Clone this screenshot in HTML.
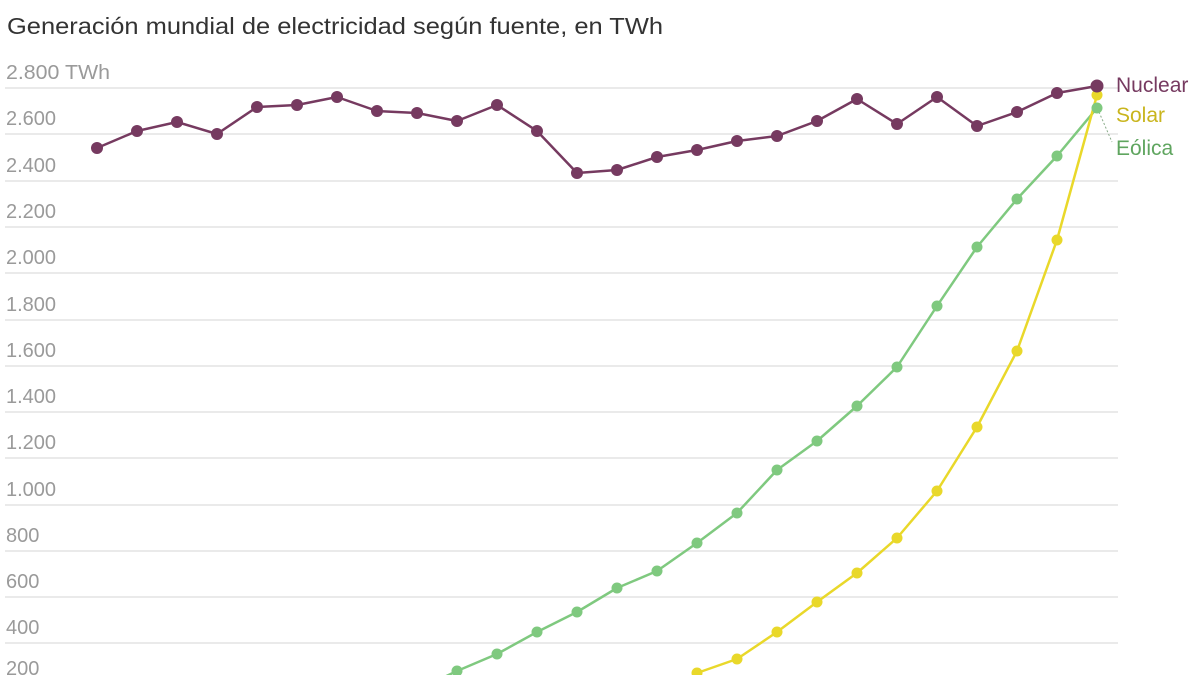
<!DOCTYPE html>
<html><head><meta charset="utf-8"><style>
body{margin:0;background:#fff;width:1200px;height:675px;overflow:hidden}
svg{display:block}
text{font-family:"Liberation Sans",sans-serif}
</style></head><body>
<svg width="1200" height="675" viewBox="0 0 1200 675">
<text x="7" y="34" font-size="23" fill="#333" textLength="656" lengthAdjust="spacingAndGlyphs">Generación mundial de electricidad según fuente, en TWh</text>
<g stroke="#e4e4e4" stroke-width="1.5">
<line x1="5" x2="1118" y1="88" y2="88"/><line x1="5" x2="1118" y1="134" y2="134"/>
<line x1="5" x2="1118" y1="181" y2="181"/><line x1="5" x2="1118" y1="227" y2="227"/>
<line x1="5" x2="1118" y1="273" y2="273"/><line x1="5" x2="1118" y1="320" y2="320"/>
<line x1="5" x2="1118" y1="366" y2="366"/><line x1="5" x2="1118" y1="412" y2="412"/>
<line x1="5" x2="1118" y1="458" y2="458"/><line x1="5" x2="1118" y1="505" y2="505"/>
<line x1="5" x2="1118" y1="551" y2="551"/><line x1="5" x2="1118" y1="597" y2="597"/>
<line x1="5" x2="1118" y1="643" y2="643"/>
</g>
<g font-size="20" fill="#9a9a9a">
<text x="6" y="79" textLength="104" lengthAdjust="spacingAndGlyphs">2.800 TWh</text><text x="6" y="125">2.600</text><text x="6" y="172">2.400</text>
<text x="6" y="218">2.200</text><text x="6" y="264">2.000</text><text x="6" y="311">1.800</text>
<text x="6" y="357">1.600</text><text x="6" y="403">1.400</text><text x="6" y="449">1.200</text>
<text x="6" y="496">1.000</text><text x="6" y="542">800</text><text x="6" y="588">600</text>
<text x="6" y="634">400</text><text x="6" y="675">200</text>
</g>
<line x1="1099" y1="112" x2="1112" y2="142" stroke="#8a8" stroke-width="1" stroke-dasharray="2,2"/>
<g fill="none" stroke-width="2.5" stroke-linejoin="round">
<polyline stroke="#7fc97f" points="377,706 417,690 457,671 497,654 537,632 577,612 617,588 657,571 697,543 737,513 777,470 817,441 857,406 897,367 937,306 977,247 1017,199 1057,156 1097,108"/>
<polyline stroke="#e9d82a" points="657,700 697,673 737,659 777,632 817,602 857,573 897,538 937,491 977,427 1017,351 1057,240 1097,95"/>
<polyline stroke="#763a60" points="97,148 137,131 177,122 217,134 257,107 297,105 337,97 377,111 417,113 457,121 497,105 537,131 577,173 617,170 657,157 697,150 737,141 777,136 817,121 857,99 897,124 937,97 977,126 1017,112 1057,93 1097,86"/>
</g>
<g fill="#7fc97f">
<circle cx="457" cy="671" r="5.5"/><circle cx="497" cy="654" r="5.5"/><circle cx="537" cy="632" r="5.5"/><circle cx="577" cy="612" r="5.5"/><circle cx="617" cy="588" r="5.5"/><circle cx="657" cy="571" r="5.5"/><circle cx="697" cy="543" r="5.5"/><circle cx="737" cy="513" r="5.5"/><circle cx="777" cy="470" r="5.5"/><circle cx="817" cy="441" r="5.5"/><circle cx="857" cy="406" r="5.5"/><circle cx="897" cy="367" r="5.5"/><circle cx="937" cy="306" r="5.5"/><circle cx="977" cy="247" r="5.5"/><circle cx="1017" cy="199" r="5.5"/><circle cx="1057" cy="156" r="5.5"/><circle cx="1097" cy="108" r="5.5"/>
</g>
<g fill="#e9d82a">
<circle cx="697" cy="673" r="5.5"/><circle cx="737" cy="659" r="5.5"/><circle cx="777" cy="632" r="5.5"/><circle cx="817" cy="602" r="5.5"/><circle cx="857" cy="573" r="5.5"/><circle cx="897" cy="538" r="5.5"/><circle cx="937" cy="491" r="5.5"/><circle cx="977" cy="427" r="5.5"/><circle cx="1017" cy="351" r="5.5"/><circle cx="1057" cy="240" r="5.5"/><circle cx="1097" cy="95" r="5.5"/>
</g>
<g fill="#763a60">
<circle cx="97" cy="148" r="6"/><circle cx="137" cy="131" r="6"/><circle cx="177" cy="122" r="6"/><circle cx="217" cy="134" r="6"/><circle cx="257" cy="107" r="6"/><circle cx="297" cy="105" r="6"/><circle cx="337" cy="97" r="6"/><circle cx="377" cy="111" r="6"/><circle cx="417" cy="113" r="6"/><circle cx="457" cy="121" r="6"/><circle cx="497" cy="105" r="6"/><circle cx="537" cy="131" r="6"/><circle cx="577" cy="173" r="6"/><circle cx="617" cy="170" r="6"/><circle cx="657" cy="157" r="6"/><circle cx="697" cy="150" r="6"/><circle cx="737" cy="141" r="6"/><circle cx="777" cy="136" r="6"/><circle cx="817" cy="121" r="6"/><circle cx="857" cy="99" r="6"/><circle cx="897" cy="124" r="6"/><circle cx="937" cy="97" r="6"/><circle cx="977" cy="126" r="6"/><circle cx="1017" cy="112" r="6"/><circle cx="1057" cy="93" r="6"/><circle cx="1097" cy="86" r="6.5"/>
</g>
<g font-size="21">
<text x="1116" y="92" fill="#763a60">Nuclear</text>
<text x="1116" y="122" fill="#c9b51e">Solar</text>
<text x="1116" y="155" fill="#5fa55f">Eólica</text>
</g>
</svg>
</body></html>
